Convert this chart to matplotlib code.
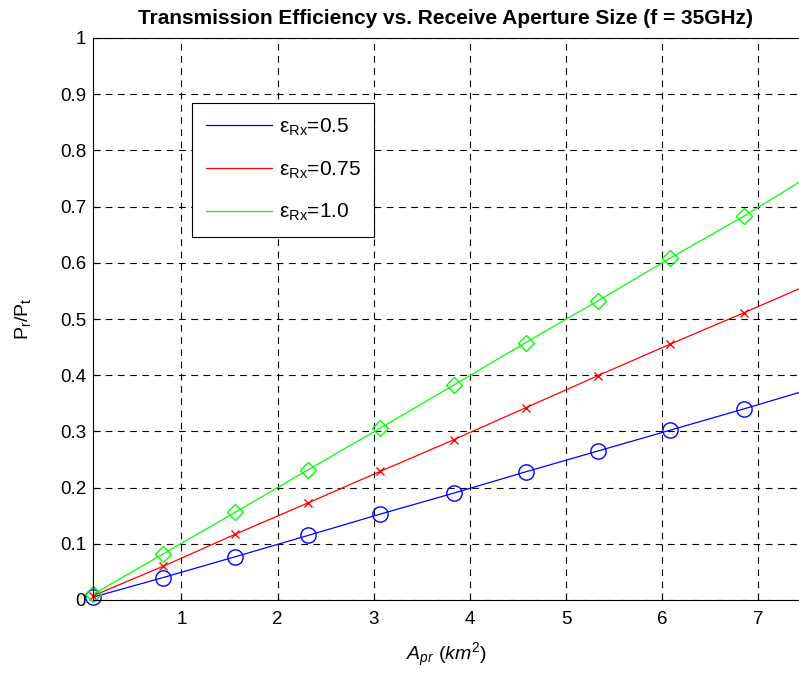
import matplotlib
matplotlib.use("Agg")
import matplotlib.pyplot as plt
import numpy as np

plt.rcParams['font.family'] = ['Liberation Sans', 'DejaVu Sans']
plt.rcParams['mathtext.fontset'] = 'custom'
plt.rcParams['mathtext.rm'] = 'Liberation Sans'
plt.rcParams['mathtext.it'] = 'Liberation Sans:italic'
plt.rcParams['mathtext.bf'] = 'Liberation Sans:bold'

# Data
x_pts = [0.08, 0.81, 1.56, 2.32, 3.07, 3.83, 4.58, 5.33, 6.08, 6.85, 7.44]
eps_05 = [0.005, 0.040, 0.077, 0.115, 0.153, 0.190, 0.228, 0.265, 0.302, 0.340, 0.370]
eps_075 = [0.0075, 0.060, 0.117, 0.173, 0.229, 0.285, 0.342, 0.399, 0.455, 0.511, 0.555]
eps_10 = [0.010, 0.082, 0.156, 0.232, 0.306, 0.382, 0.458, 0.532, 0.608, 0.683, 0.745]
n_markers = 10  # markers at the first 10 points

labels = [r'$\mathregular{\varepsilon_{Rx}}$=0.5',
          r'$\mathregular{\varepsilon_{Rx}}$=0.75',
          r'$\mathregular{\varepsilon_{Rx}}$=1.0']
colors = ['#0000ff', '#ff0000', '#00ff00']
markers = ['o', 'x', 'D']
msizes = [11, 6, 8.5]

x_ticks = [1, 2, 3, 4, 5, 6, 7]
y_ticks = [0, 0.1, 0.2, 0.3, 0.4, 0.5, 0.6, 0.7, 0.8, 0.9, 1]
y_ticklabels = ['0', '0.1', '0.2', '0.3', '0.4', '0.5', '0.6', '0.7', '0.8', '0.9', '1']

fig = plt.figure(figsize=(7.99, 6.79), dpi=100)
ax = fig.add_axes([93/799, 79/679, (799-93)/799 + 0.002, 562/679])

series = [eps_05, eps_075, eps_10]
handles = []
for ys, c, m, ms, lab in zip(series, colors, markers, msizes, labels):
    h, = ax.plot(x_pts, ys, color=c, lw=0.9, label=lab)
    ax.plot(x_pts[:n_markers], ys[:n_markers], linestyle='none', marker=m,
            markersize=ms, markerfacecolor='none', markeredgecolor=c,
            markeredgewidth=1.0, clip_on=False)
    handles.append(h)

ax.set_xlim(0.08, 7.44)
ax.set_ylim(0, 1)
ax.set_xticks(x_ticks)
ax.set_yticks(y_ticks)
ax.set_yticklabels(y_ticklabels)
ax.tick_params(direction='in', length=5, labelsize=13.5, width=0.8, top=False, right=False)
ax.tick_params(axis='y', pad=5)
ax.tick_params(axis='x', pad=8)
ax.grid(True, color='black', linestyle=(0, (6, 5)), linewidth=0.8)
for s in ax.spines.values():
    s.set_linewidth(0.8)

ax.set_xlabel(r'$A_{pr}$ $(km^2)$', fontsize=14, labelpad=9)
ax.set_ylabel(r'$\mathregular{P_r/P_t}$', fontsize=14, labelpad=19)
fig.text(446/799, 1 - 18/679, 'Transmission Efficiency vs. Receive Aperture Size (f = 35GHz)',
         ha='center', va='center', fontsize=15, fontweight='bold')

leg = ax.legend(handles=handles, loc='upper left', bbox_to_anchor=(0.1402, 0.884),
                fontsize=15, frameon=True, fancybox=False, edgecolor='black',
                framealpha=1, handlelength=3.2, borderpad=0.65, labelspacing=1.02,
                handletextpad=0.3, borderaxespad=0)
leg.get_frame().set_linewidth(0.8)

fig.savefig('out.png', dpi=100)
